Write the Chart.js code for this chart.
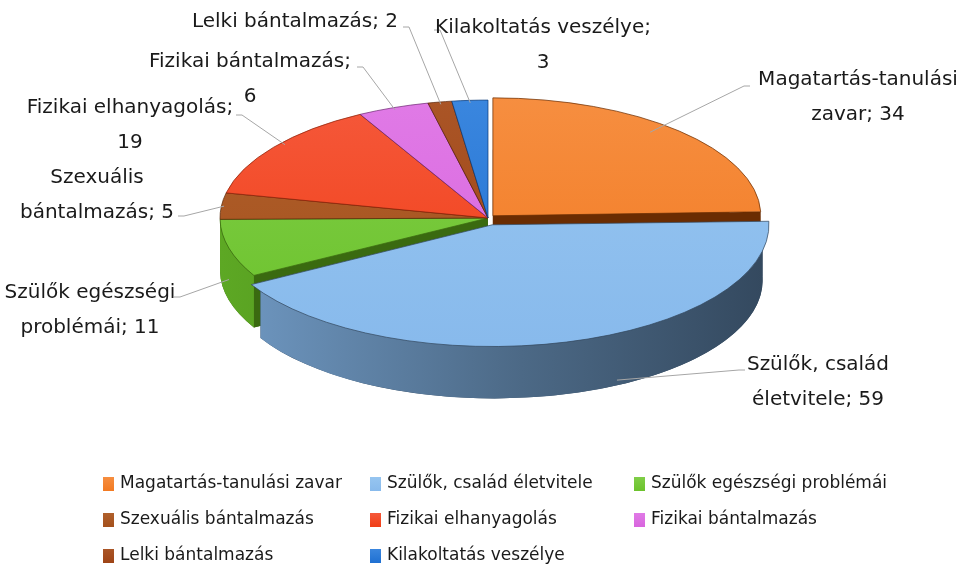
<!DOCTYPE html>
<html>
<head>
<meta charset="utf-8">
<script src="https://cdn.jsdelivr.net/npm/chart.js@4"></script>
<style>
  html,body{margin:0;padding:0;background:#fff;}
  #wrap{width:965px;height:565px;}
</style>
</head>
<body>
<div id="wrap"><canvas id="pie" width="965" height="565"></canvas></div>
<script>
const labels = ['Magatartás-tanulási zavar','Szülők, család életvitele','Szülők egészségi problémái','Szexuális bántalmazás','Fizikai elhanyagolás','Fizikai bántalmazás','Lelki bántalmazás','Kilakoltatás veszélye'];
const values = [34, 59, 11, 5, 19, 6, 2, 3];
const topColors = ['#F27A22','#88BAEC','#6CC22C','#A4501C','#F03E16','#D865DE','#9E4416','#1F70D2'];
const lightColors = ['#F68E40','#96C5F0','#80CE48','#B0602C','#F5583A','#E07AE6','#AA5526','#3A86DE'];
const sideColors = ['#6A2C02','#34495F','#3A6A10','#5A2A0A','#8A2208','#6E2A74','#5A2408','#0E3C78'];
const explode = [28, 64, 0, 0, 0, 0, 0, 0];

// where the data labels sit (text centre, first line y, words on line 1, leader start, anchor)
const labelLayout = [
  {cx:858, y:80,  words:1, lx:750, ly:86,  at:0.45, r:0.92},
  {cx:818, y:365, words:2, lx:745, ly:370, at:0.42, r:0.98, wall:0.95},
  {cx:90,  y:293, words:2, lx:174, ly:297, at:0.5,  r:1.0,  wall:0.6},
  {cx:97,  y:178, words:1, lx:178, ly:216, at:0.5,  r:0.99},
  {cx:130, y:108, words:2, lx:236, ly:115, at:0.55, r:0.98},
  {cx:250, y:62,  words:2, lx:357, ly:67,  at:0.5,  r:0.98},
  {cx:295, y:22,  words:9, lx:403, ly:27,  at:0.5,  r:0.98},
  {cx:543, y:28,  words:2, lx:434, ly:30,  at:0.5,  r:0.98}
];
const legendCols = [103, 370, 634];
const legendRows = [484, 520, 556];

const PIE = {cx:488, cy:218, tilt:0.44, depth:52, radius:268};
const FONT = '"DejaVu Sans", sans-serif';

function sliceShift(arc, off){
  const half = (arc.startAngle + arc.endAngle) / 2;
  const circ = arc.endAngle - arc.startAngle;
  const o = off / 4;
  const fix = 1 - Math.sin(Math.min(Math.PI, circ));
  const t = o + o * fix;
  return {x: Math.cos(half) * t, y: Math.sin(half) * t};
}
function screenCenter(arc, i){
  const s = sliceShift(arc, explode[i]);
  return {x: PIE.cx + s.x, y: PIE.cy + s.y * PIE.tilt};
}
function pt(c, R, th, dy){ return {x: c.x + R*Math.cos(th), y: c.y + PIE.tilt*R*Math.sin(th) + (dy||0)}; }
function mix(a, b, t){
  const pa = [1,3,5].map(k=>parseInt(a.substr(k,2),16));
  const pb = [1,3,5].map(k=>parseInt(b.substr(k,2),16));
  return 'rgb(' + pa.map((v,j)=>Math.round(v + (pb[j]-v)*t)).join(',') + ')';
}
function topFill(context){
  const i = context.dataIndex;
  const area = context.chart.chartArea;
  if (!area || i === undefined) return topColors[i] || '#ccc';
  const cy = (area.top + area.bottom) / 2;
  const g = context.chart.ctx.createLinearGradient(0, cy - PIE.radius, 0, cy + PIE.radius);
  g.addColorStop(0, lightColors[i]);
  g.addColorStop(1, topColors[i]);
  return g;
}

const pie3d = {
  id: 'pie3d',
  beforeDatasetsDraw(chart){
    const ctx = chart.ctx;
    const meta = chart.getDatasetMeta(0);
    const D = PIE.depth, k = PIE.tilt;
    const order = meta.data.map((a,i)=>i).sort((a,b)=>{
      const ma = (meta.data[a].startAngle + meta.data[a].endAngle)/2;
      const mb = (meta.data[b].startAngle + meta.data[b].endAngle)/2;
      return Math.sin(ma) - Math.sin(mb);
    });
    order.forEach(i=>{
      const arc = meta.data[i];
      const c = screenCenter(arc, i);
      const R = arc.outerRadius, s = arc.startAngle, e = arc.endAngle;
      ctx.save();
      ctx.fillStyle = sideColors[i];
      // bottom face
      ctx.beginPath();
      ctx.moveTo(c.x, c.y + D);
      ctx.ellipse(c.x, c.y + D, R, k*R, 0, s, e);
      ctx.closePath();
      ctx.fill();
      // radial faces
      [s, e].forEach(th=>{
        const p = pt(c, R, th);
        ctx.beginPath();
        ctx.moveTo(c.x, c.y); ctx.lineTo(p.x, p.y); ctx.lineTo(p.x, p.y + D); ctx.lineTo(c.x, c.y + D);
        ctx.closePath(); ctx.fill();
      });
      // outer wall
      const a = Math.max(s, 0), b = Math.min(e, Math.PI);
      if (b > a){
        const g = ctx.createLinearGradient(c.x - R, 0, c.x + R, 0);
        g.addColorStop(0, mix(topColors[i], sideColors[i], 0.3));
        g.addColorStop(0.55, mix(topColors[i], sideColors[i], 0.72));
        g.addColorStop(1, sideColors[i]);
        ctx.fillStyle = g;
        ctx.beginPath();
        ctx.ellipse(c.x, c.y, R, k*R, 0, a, b);
        const pb = pt(c, R, b, D);
        ctx.lineTo(pb.x, pb.y);
        ctx.ellipse(c.x, c.y + D, R, k*R, 0, b, a, true);
        ctx.closePath();
        ctx.fill();
      }
      ctx.restore();
    });
    // squash the top faces that Chart.js draws next
    const a0 = meta.data[0];
    ctx.save();
    ctx.translate(PIE.cx, PIE.cy);
    ctx.scale(1, k);
    ctx.translate(-a0.x, -a0.y);
  },
  afterDatasetsDraw(chart){
    const ctx = chart.ctx;
    ctx.restore();
    const meta = chart.getDatasetMeta(0);
    // data labels and leader lines
    ctx.save();
    ctx.font = '20px ' + FONT;
    ctx.fillStyle = '#1a1a1a';
    ctx.textAlign = 'center';
    ctx.textBaseline = 'middle';
    labelLayout.forEach((L, i)=>{
      const arc = meta.data[i];
      const c = screenCenter(arc, i);
      const th = arc.startAngle + (arc.endAngle - arc.startAngle) * L.at;
      const p = pt(c, arc.outerRadius * L.r, th, (L.wall||0) * PIE.depth);
      ctx.strokeStyle = '#a6a6a6';
      ctx.lineWidth = 1;
      ctx.beginPath();
      ctx.moveTo(L.lx, L.ly);
      ctx.lineTo(L.lx + (p.x > L.lx ? 6 : -6), L.ly);
      ctx.lineTo(p.x, p.y);
      ctx.stroke();
      const words = (labels[i] + '; ' + values[i]).split(' ');
      const lines = [words.slice(0, L.words).join(' '), words.slice(L.words).join(' ')].filter(t=>t);
      lines.forEach((t, j)=> ctx.fillText(t, L.cx, L.y + j*35));
    });
    // legend grid
    ctx.font = '17px ' + FONT;
    ctx.textAlign = 'left';
    labels.forEach((t, i)=>{
      const x = legendCols[i % 3], y = legendRows[Math.floor(i / 3)];
      const g = ctx.createLinearGradient(0, y - 7, 0, y + 7);
      g.addColorStop(0, lightColors[i]);
      g.addColorStop(1, topColors[i]);
      ctx.fillStyle = g;
      ctx.fillRect(x, y - 7, 11, 14);
      ctx.fillStyle = '#1a1a1a';
      ctx.fillText(t, x + 17, y);
    });
    ctx.restore();
  }
};

new Chart(document.getElementById('pie'), {
  type: 'pie',
  data: {
    labels: labels,
    datasets: [{
      data: values,
      backgroundColor: topFill,
      borderColor: sideColors,
      borderWidth: 1,
      offset: explode,
      clip: false
    }]
  },
  options: {
    responsive: false,
    animation: false,
    radius: PIE.radius,
    layout: {padding: 0},
    events: [],
    plugins: {legend: {display: false}, tooltip: {enabled: false}}
  },
  plugins: [pie3d]
});
</script>
</body>
</html>
